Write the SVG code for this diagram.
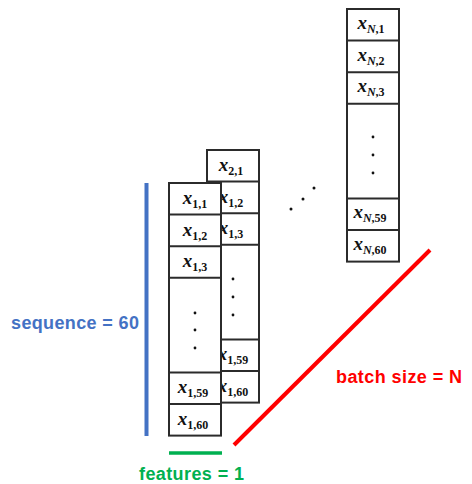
<svg xmlns="http://www.w3.org/2000/svg" width="472" height="484" viewBox="0 0 472 484">
  <style>
    .cell { fill: #ffffff; stroke: #2b2b2b; stroke-width: 2; }
    .div { stroke: #2b2b2b; stroke-width: 2; }
    .dot { fill: #111111; }
    .lbl { font-family: "Liberation Serif", "DejaVu Serif", serif; font-style: italic; font-weight: bold; font-size: 19px; fill: #111111; text-anchor: middle; }
    .sub { font-style: normal; font-size: 12px; }
    .subi { font-style: italic; }
    .dim { font-family: "Liberation Sans", "Noto Sans", sans-serif; font-weight: bold; font-size: 18px; }
  </style>

  <!-- column for sample 2 (behind sample 1) -->
  <g id="col-2">
    <rect class="cell" x="207" y="150" width="52" height="252.6"/>
    <line class="div" x1="207" y1="181.6" x2="259" y2="181.6"/>
    <line class="div" x1="207" y1="213.2" x2="259" y2="213.2"/>
    <line class="div" x1="207" y1="244.8" x2="259" y2="244.8"/>
    <line class="div" x1="207" y1="339.4" x2="259" y2="339.4"/>
    <line class="div" x1="207" y1="371" x2="259" y2="371"/>
    <text class="lbl" x="231" y="171">x<tspan class="sub" dy="4">2,1</tspan></text>
    <text class="lbl" x="231" y="202.6">x<tspan class="sub" dy="4">1,2</tspan></text>
    <text class="lbl" x="231" y="234.2">x<tspan class="sub" dy="4">1,3</tspan></text>
    <circle class="dot" cx="233" cy="279" r="1.4"/>
    <circle class="dot" cx="233" cy="297" r="1.4"/>
    <circle class="dot" cx="233" cy="315" r="1.4"/>
    <text class="lbl" x="233" y="360.4">x<tspan class="sub" dy="4">1,59</tspan></text>
    <text class="lbl" x="233" y="392">x<tspan class="sub" dy="4">1,60</tspan></text>
  </g>

  <!-- column for sample 1 (front) -->
  <g id="col-1">
    <rect class="cell" x="169" y="183" width="52" height="252.6"/>
    <line class="div" x1="169" y1="214.6" x2="221" y2="214.6"/>
    <line class="div" x1="169" y1="246.2" x2="221" y2="246.2"/>
    <line class="div" x1="169" y1="277.8" x2="221" y2="277.8"/>
    <line class="div" x1="169" y1="372.4" x2="221" y2="372.4"/>
    <line class="div" x1="169" y1="404" x2="221" y2="404"/>
    <text class="lbl" x="195" y="204">x<tspan class="sub" dy="4">1,1</tspan></text>
    <text class="lbl" x="195" y="235.6">x<tspan class="sub" dy="4">1,2</tspan></text>
    <text class="lbl" x="195" y="267.2">x<tspan class="sub" dy="4">1,3</tspan></text>
    <circle class="dot" cx="195" cy="313" r="1.4"/>
    <circle class="dot" cx="195" cy="330" r="1.4"/>
    <circle class="dot" cx="195" cy="348" r="1.4"/>
    <text class="lbl" x="193" y="393.4">x<tspan class="sub" dy="4">1,59</tspan></text>
    <text class="lbl" x="193" y="425">x<tspan class="sub" dy="4">1,60</tspan></text>
  </g>

  <!-- column for sample N -->
  <g id="col-N">
    <rect class="cell" x="347" y="9" width="52" height="252.6"/>
    <line class="div" x1="347" y1="40.6" x2="399" y2="40.6"/>
    <line class="div" x1="347" y1="72.2" x2="399" y2="72.2"/>
    <line class="div" x1="347" y1="103.8" x2="399" y2="103.8"/>
    <line class="div" x1="347" y1="198.4" x2="399" y2="198.4"/>
    <line class="div" x1="347" y1="230" x2="399" y2="230"/>
    <text class="lbl" x="371" y="29">x<tspan class="sub" dy="4"><tspan class="subi">N</tspan>,1</tspan></text>
    <text class="lbl" x="371" y="60.6">x<tspan class="sub" dy="4"><tspan class="subi">N</tspan>,2</tspan></text>
    <text class="lbl" x="371" y="92.2">x<tspan class="sub" dy="4"><tspan class="subi">N</tspan>,3</tspan></text>
    <circle class="dot" cx="373" cy="137" r="1.4"/>
    <circle class="dot" cx="373" cy="155" r="1.4"/>
    <circle class="dot" cx="373" cy="173" r="1.4"/>
    <text class="lbl" x="370" y="218.4">x<tspan class="sub" dy="4"><tspan class="subi">N</tspan>,59</tspan></text>
    <text class="lbl" x="370" y="250">x<tspan class="sub" dy="4"><tspan class="subi">N</tspan>,60</tspan></text>
  </g>

  <!-- ellipsis between columns -->
  <g id="ellipsis">
    <circle class="dot" cx="314" cy="188" r="1.5"/>
    <circle class="dot" cx="303" cy="199" r="1.5"/>
    <circle class="dot" cx="291" cy="209" r="1.5"/>
  </g>

  <!-- dimension markers -->
  <g id="dimensions">
    <line x1="146.5" y1="183" x2="146.5" y2="436" stroke="#4472C4" stroke-width="4"/>
    <text class="dim" x="11" y="329" fill="#4472C4" textLength="128" lengthAdjust="spacing">sequence = 60</text>
    <line x1="169" y1="453" x2="222" y2="453" stroke="#00B050" stroke-width="3.5"/>
    <text class="dim" x="139" y="480" fill="#00B050" textLength="105" lengthAdjust="spacing">features = 1</text>
    <line x1="234" y1="445" x2="430" y2="250" stroke="#FF0000" stroke-width="4"/>
    <text class="dim" x="336" y="383" fill="#FF0000" textLength="126" lengthAdjust="spacing">batch size = N</text>
  </g>
</svg>
